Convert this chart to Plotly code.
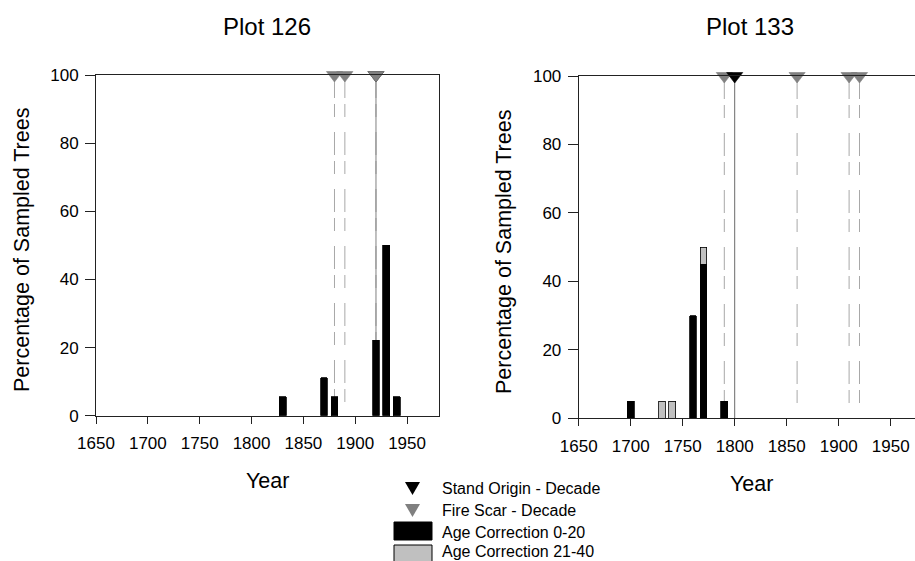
import plotly.graph_objects as go

# ---------------- data ----------------
x_ticks = [1650, 1700, 1750, 1800, 1850, 1900, 1950]
y_ticks = [0, 20, 40, 60, 80, 100]

# Plot 126
years_126 = [1830, 1870, 1880, 1920, 1930, 1940]
age_0_20_126 = [5.56, 11.11, 5.56, 22.22, 50.0, 5.56]
fire_scar_126 = [1880, 1890, 1920]
stand_origin_126 = [1920]

# Plot 133
years_133_a = [1700, 1760, 1770, 1790]
age_0_20_133 = [5, 30, 45, 5]
years_133_b = [1730, 1740, 1770]
age_21_40_133 = [5, 5, 5]
fire_scar_133 = [1790, 1860, 1910, 1920]
stand_origin_133 = [1800]

MARK_Y = 100
W, H = 915, 561
FONT = "Liberation Sans, Arial, sans-serif"
BLACK = "#000000"
LIGHT = "#c0c0c0"
SCAR = "#808080"


def px(x, y):
    return x / W, 1 - y / H


fig = go.Figure()

BAR_W = 6.5


def add_bars(xs, ys, color, xa, ya):
    fig.add_trace(go.Bar(
        x=xs, y=ys, width=[BAR_W] * len(xs), xaxis=xa, yaxis=ya,
        marker=dict(color=color, line=dict(color=BLACK, width=0.8)),
        showlegend=False, hoverinfo="x+y"))


def add_marks(xs, color, xa, ya):
    fig.add_trace(go.Scatter(
        x=xs, y=[MARK_Y] * len(xs), xaxis=xa, yaxis=ya, mode="markers",
        marker=dict(symbol="triangle-down", size=14, color=color,
                    line=dict(width=0.6, color=color)),
        cliponaxis=False, showlegend=False))


# bars
add_bars(years_126, age_0_20_126, BLACK, "x", "y")
add_bars(years_133_a, age_0_20_133, BLACK, "x2", "y2")
add_bars(years_133_b, age_21_40_133, LIGHT, "x2", "y2")

# markers (left: stand origin under fire scar; right: fire scar under stand origin)
add_marks(stand_origin_126, BLACK, "x", "y")
add_marks(fire_scar_126, SCAR, "x", "y")
add_marks(fire_scar_133, SCAR, "x2", "y2")
add_marks(stand_origin_133, BLACK, "x2", "y2")

shapes = []
for xs, xr, yr in [(fire_scar_126, "x", "y"), (fire_scar_133, "x2", "y2")]:
    for v in xs:
        shapes.append(dict(type="line", xref=xr, yref=yr, x0=v, x1=v, y0=MARK_Y, y1=0,
                           layer="below",
                           line=dict(color="#a8a8a8", width=1, dash="23px,6px,13px,15px")))
for xs, xr, yr, col in [(stand_origin_126, "x", "y", "#808080"),
                        (stand_origin_133, "x2", "y2", "#6a6a6a")]:
    for v in xs:
        shapes.append(dict(type="line", xref=xr, yref=yr, x0=v, x1=v, y0=MARK_Y, y1=0,
                           layer="below", line=dict(color=col, width=1)))

# ---------------- legend (drawn manually) ----------------
def tri(cx, top, bottom, half, color):
    x0, y0 = px(cx - half, top)
    x1, _ = px(cx + half, top)
    xt, yt = px(cx, bottom)
    return dict(type="path", xref="paper", yref="paper",
                path=f"M{x0},{y0} L{x1},{y0} L{xt},{yt} Z",
                fillcolor=color, line=dict(width=0))

shapes.append(tri(412.5, 482, 495, 7.5, BLACK))
shapes.append(tri(412.5, 504, 517, 7.5, SCAR))
rx0, ry0 = px(394, 522)
rx1, ry1 = px(432, 540)
shapes.append(dict(type="rect", xref="paper", yref="paper", x0=rx0, x1=rx1, y0=ry1, y1=ry0,
                   fillcolor=BLACK, line=dict(color=BLACK, width=1)))
gx0, gy0 = px(394, 545)
gx1, gy1 = px(432, 562)
shapes.append(dict(type="rect", xref="paper", yref="paper", x0=gx0, x1=gx1, y0=gy1, y1=gy0,
                   fillcolor=LIGHT, line=dict(color=BLACK, width=1)))

legend_labels = ["Stand Origin - Decade", "Fire Scar - Decade",
                 "Age Correction 0-20", "Age Correction 21-40"]
legend_y = [488, 510, 532, 551]

annotations = []
for lab, yy in zip(legend_labels, legend_y):
    ax_, ay_ = px(440, yy)
    annotations.append(dict(text=lab, x=ax_, y=ay_, xref="paper", yref="paper",
                            xanchor="left", yanchor="middle", showarrow=False,
                            font=dict(size=16, color=BLACK, family=FONT)))

def text_at(t, x, y, size, angle=0):
    ax_, ay_ = px(x, y)
    annotations.append(dict(text=t, x=ax_, y=ay_, xref="paper", yref="paper",
                            xanchor="center", yanchor="middle", showarrow=False,
                            textangle=angle,
                            font=dict(size=size, color=BLACK, family=FONT)))

text_at("Plot 126", 267, 26, 24)
text_at("Plot 133", 750, 27, 24)
text_at("Year", 267.5, 481, 21.5)
text_at("Year", 751, 484, 21.5)
text_at("Percentage of Sampled Trees", 22, 250, 21.5, -90)
text_at("Percentage of Sampled Trees", 504, 252, 21.5, -90)

axis_common = dict(showgrid=False, zeroline=False, ticks="outside",
                   tickcolor="#222", linecolor="#222", linewidth=1, showline=True,
                   automargin=False,
                   tickfont=dict(size=17, color=BLACK, family=FONT))

fig.update_layout(
    width=W, height=H, margin=dict(l=0, r=0, t=0, b=0, pad=0, autoexpand=False),
    paper_bgcolor="white", plot_bgcolor="white",
    barmode="stack", showlegend=False,
    shapes=shapes, annotations=annotations,
    xaxis=dict(domain=[96 / W, 438.7 / W], range=[1650, 1980.5], tickvals=x_ticks,
               ticklen=7, mirror=True, anchor="y", ticklabelstandoff=5, **axis_common),
    yaxis=dict(domain=[1 - 415.7 / H, 1 - 75 / H], range=[0, 100], tickvals=y_ticks,
               ticklen=10, mirror=True, anchor="x", ticklabelstandoff=3, **axis_common),
    xaxis2=dict(domain=[578.7 / W, 1.0], range=[1650, 1650 + (915 - 578.7) / 1.04],
                tickvals=x_ticks, ticklen=7, mirror=True, anchor="y2",
                ticklabelstandoff=5, **axis_common),
    yaxis2=dict(domain=[1 - 418.3 / H, 1 - 76 / H], range=[0, 100], tickvals=y_ticks,
                ticklen=10, mirror=False, anchor="x2", ticklabelstandoff=3, **axis_common),
)

fig.write_html("out.html")
